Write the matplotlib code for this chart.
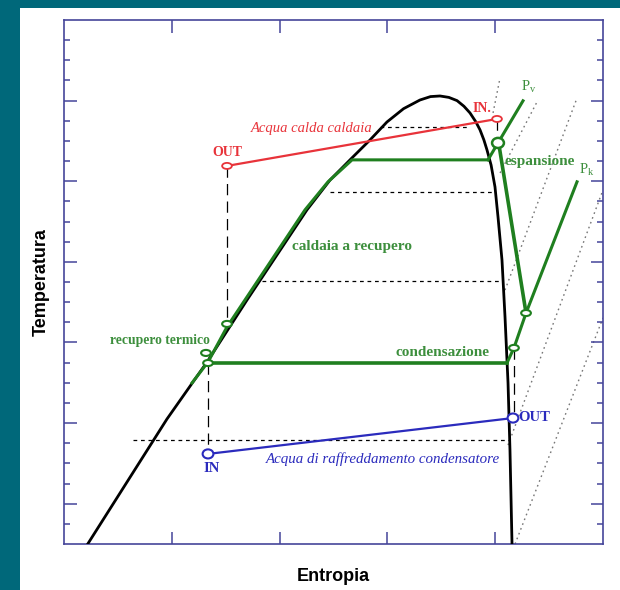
import matplotlib
matplotlib.use("Agg")
import matplotlib.pyplot as plt
from matplotlib.patches import Rectangle, Ellipse

# saturation dome (entropy, temperature) in schematic units
dome_s = [0.22, 0.955, 1.327, 1.698, 2.254, 2.468, 2.681, 2.839, 2.996, 3.15,
          3.302, 3.40, 3.488, 3.57, 3.646, 3.71, 3.766, 3.82, 3.859, 3.895,
          3.924, 3.962, 3.998, 4.026, 4.063, 4.091, 4.119, 4.137, 4.156]
dome_t = [0.0, 6.20, 9.03, 12.11, 16.58, 18.06, 19.21, 20.05, 20.94, 21.60,
          22.03, 22.20, 22.23, 22.16, 22.00, 21.72, 21.39, 20.95, 20.55, 20.05,
          19.55, 18.80, 17.72, 16.23, 14.09, 11.27, 7.99, 4.67, 0.0]

# heat recovery boiler path (green) along the liquid line
recovery_s = [1.187, 1.336, 1.512, 1.679, 2.236, 2.449, 2.672, 3.933]
recovery_t = [7.99, 9.03, 10.77, 12.11, 16.58, 17.97, 19.06, 19.06]
pv_s = [3.933, 4.026, 4.258]
pv_t = [19.06, 19.90, 21.99]
expansion_s = [4.035, 4.286]
expansion_t = [19.80, 11.46]
pk_s = [4.109, 4.174, 4.286, 4.759]
pk_t = [8.98, 9.73, 11.46, 17.97]
condens_s = [1.336, 4.109]
condens_t = [8.98, 8.98]

# state points (small ellipses)
green_pts_s = [1.512, 1.317, 1.336, 4.174, 4.286]
green_pts_t = [10.92, 9.48, 8.98, 9.73, 11.46]
exp_pt = (4.026, 19.90)

# water streams
hot_s = [1.512, 4.017]
hot_t = [18.76, 21.09]
cold_s = [1.336, 4.165]
cold_t = [4.47, 6.25]

# dashed verticals (s, t_top, t_bottom)
dashed_v = [(1.512, 18.76, 10.92), (1.336, 8.98, 4.47),
            (4.17, 9.73, 6.25), (4.02, 21.09, 19.9)]
# dotted horizontals (t, s_start, s_end)
dotted_h = [(20.69, 2.93, 3.77), (17.47, 2.47, 4.00),
            (13.05, 1.84, 4.07), (5.16, 0.64, 4.14)]
# dotted isobars in the superheated region
iso_lines = [((4.184, 5.0), (0.0, 11.22)),
             ((4.119, 5.0), (4.91, 17.57)),
             ((4.091, 4.759), (12.6, 22.13)),
             ((4.045, 4.397), (18.41, 22.03)),
             ((3.98, 4.045), (21.39, 23.13))]

GREEN = "#1f7f1f"
GREEN_TXT = "#3d8f3d"
RED = "#e8333a"
BLUE = "#2b2bbd"
AXC = "#45459a"

fig = plt.figure(figsize=(6.2, 5.9), dpi=100, facecolor="#00687a")
fig.add_artist(Rectangle((20 / 620, 0), 1, 582 / 590, transform=fig.transFigure,
                         facecolor="white", edgecolor="none", zorder=-5))
ax = fig.add_axes([64 / 620, 46 / 590, 539 / 620, 524 / 590])
ax.set_xlim(0, 5)
ax.set_ylim(0, 26)
ax.set_facecolor("white")

for sp in ax.spines.values():
    sp.set_color(AXC)
    sp.set_linewidth(1.2)
ax.set_xticks([1, 2, 3, 4])
ax.set_yticks([2, 6, 10, 14, 18, 22])
ax.set_yticks([v for v in range(1, 26) if v not in (2, 6, 10, 14, 18, 22)], minor=True)
ax.tick_params(which="both", direction="in", top=True, right=True,
               labelbottom=False, labelleft=False, color=AXC, width=1.1)
ax.tick_params(which="major", length=9)
ax.tick_params(which="minor", length=4.5)

# dotted helper lines
for s_vals, t_vals in iso_lines:
    ax.plot(s_vals, t_vals, color="#777777", lw=1.0, ls=(0, (1.2, 2.5)), zorder=1)
for t, s0, s1 in dotted_h:
    ax.plot([s0, s1], [t, t], color="black", lw=0.9, ls=(0, (3, 3)), zorder=1)
for s, t0, t1 in dashed_v:
    ax.plot([s, s], [t0, t1], color="black", lw=0.9, ls=(0, (9, 5)), zorder=1)

# dome
ax.plot(dome_s, dome_t, color="black", lw=2.0, zorder=3, solid_joinstyle="round")

# cycle
ax.plot(recovery_s, recovery_t, color=GREEN, lw=2.2, zorder=4)
ax.plot(pv_s, pv_t, color=GREEN, lw=2.2, zorder=4)
ax.plot(expansion_s, expansion_t, color=GREEN, lw=2.6, zorder=4)
ax.plot(pk_s, pk_t, color=GREEN, lw=2.2, zorder=4)
ax.plot(condens_s, condens_t, color=GREEN, lw=2.6, zorder=4)

# water streams
ax.plot(hot_s, hot_t, color=RED, lw=1.6, zorder=4)
ax.plot(cold_s, cold_t, color=BLUE, lw=1.6, zorder=4)

for s, t in zip(green_pts_s, green_pts_t):
    ax.add_patch(Ellipse((s, t), 0.09, 0.3, facecolor="white", edgecolor=GREEN,
                         lw=1.5, zorder=6))
ax.add_patch(Ellipse(exp_pt, 0.11, 0.5, facecolor="white", edgecolor=GREEN,
                     lw=1.8, zorder=6))
for s, t in zip(hot_s, hot_t):
    ax.add_patch(Ellipse((s, t), 0.09, 0.3, facecolor="white", edgecolor=RED,
                         lw=1.3, zorder=6))
for s, t in zip(cold_s, cold_t):
    ax.add_patch(Ellipse((s, t), 0.1, 0.45, facecolor="white", edgecolor=BLUE,
                         lw=1.5, zorder=6))

serif = "Liberation Serif"
ax.text(2.3, 20.6, "Acqua calda caldaia", color=RED, fontsize=10.5,
        family=serif, style="italic", ha="center", va="center", zorder=7)
ax.text(1.52, 19.45, "OUT", color=RED, fontsize=10, family=serif,
        weight="bold", ha="center", va="center", zorder=7)
ax.text(3.88, 21.6, "IN.", color=RED, fontsize=10, family=serif,
        weight="bold", ha="center", va="center", zorder=7)
ax.text(2.67, 14.75, "caldaia a recupero", color=GREEN_TXT, fontsize=11,
        family=serif, weight="bold", ha="center", va="center", zorder=7)
ax.text(0.89, 10.1, "recupero termico", color=GREEN_TXT, fontsize=9.8,
        family=serif, weight="bold", ha="center", va="center", zorder=7)
ax.text(4.41, 19.0, "espansione", color=GREEN_TXT, fontsize=11,
        family=serif, weight="bold", ha="center", va="center", zorder=7)
ax.text(3.51, 9.5, "condensazione", color=GREEN_TXT, fontsize=11,
        family=serif, weight="bold", ha="center", va="center", zorder=7)
ax.text(4.31, 22.7, r"P$_\mathregular{v}$", color=GREEN_TXT, fontsize=10.5,
        family=serif, ha="center", va="center", zorder=7)
ax.text(4.85, 18.55, r"P$_\mathregular{k}$", color=GREEN_TXT, fontsize=10.5,
        family=serif, ha="center", va="center", zorder=7)
ax.text(4.36, 6.3, "OUT", color=BLUE, fontsize=10.5, family=serif,
        weight="bold", ha="center", va="center", zorder=7)
ax.text(1.37, 3.75, "IN", color=BLUE, fontsize=10.5, family=serif,
        weight="bold", ha="center", va="center", zorder=7)
ax.text(2.96, 4.2, "Acqua di raffreddamento condensatore", color=BLUE,
        fontsize=10.8, family=serif, style="italic", ha="center", va="center",
        zorder=7)

ax.set_xlabel("Entropia", fontsize=13, family="Liberation Sans",
              weight="bold", labelpad=17)
ax.set_ylabel("Temperatura", fontsize=13, family="Liberation Sans",
              weight="bold", labelpad=10)

fig.savefig("out.png", dpi=100, facecolor=fig.get_facecolor())
